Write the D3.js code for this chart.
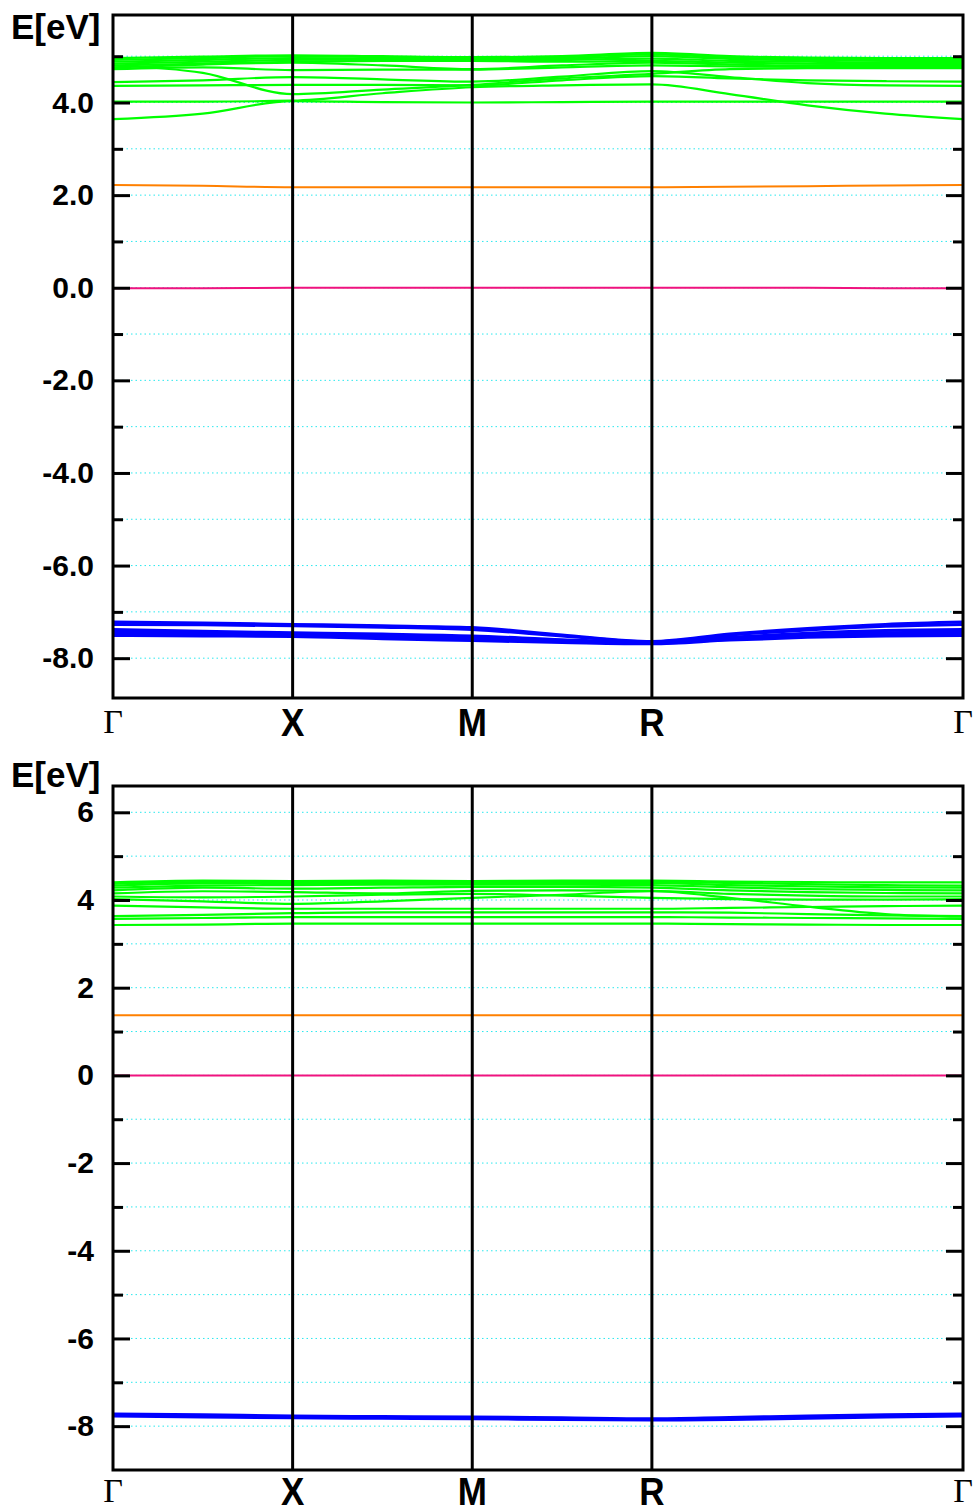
<!DOCTYPE html>
<html>
<head>
<meta charset="utf-8">
<script src="https://cdn.jsdelivr.net/npm/d3@7"></script>
<style>
  body { margin: 0; background: #fff; }
  svg { display: block; }
</style>
</head>
<body>
<div id="chart"></div>
<script>
// k-path sample positions (Γ, ΓX mid, X, XM mid, M, MR mid, R, three points on RΓ, Γ)
const kPos = [0, 0.25, 0.5, 0.75, 1.0, 1.25, 1.5, 1.7165, 1.933, 2.1495, 2.366];
const kTickPos = [0, 0.5, 1.0, 1.5, 2.366];
const kTickLabels = ["Γ", "X", "M", "R", "Γ"];

// upper panel bands (eV)
const topGreen = [
  [3.64, 3.76, 4.03, 4.01, 4.00, 4.01, 4.02, 4.02, 4.02, 4.02, 4.02],
  [4.02, 4.02, 4.04, 4.20, 4.33, 4.37, 4.39, 4.18, 3.94, 3.76, 3.64],
  [4.36, 4.37, 4.38, 4.38, 4.37, 4.48, 4.57, 4.52, 4.48, 4.46, 4.45],
  [4.44, 4.48, 4.55, 4.50, 4.45, 4.56, 4.68, 4.55, 4.42, 4.37, 4.36],
  [4.80, 4.64, 4.18, 4.28, 4.38, 4.52, 4.62, 4.72, 4.74, 4.74, 4.74],
  [4.72, 4.76, 4.70, 4.71, 4.71, 4.76, 4.80, 4.78, 4.77, 4.77, 4.77],
  [4.76, 4.82, 4.86, 4.80, 4.72, 4.80, 4.86, 4.82, 4.80, 4.80, 4.80],
  [4.80, 4.84, 4.88, 4.90, 4.90, 4.88, 4.90, 4.86, 4.84, 4.83, 4.83],
  [4.84, 4.88, 4.92, 4.93, 4.92, 4.92, 4.95, 4.90, 4.88, 4.86, 4.86],
  [4.88, 4.92, 4.96, 4.95, 4.94, 4.95, 5.00, 4.94, 4.91, 4.90, 4.90],
  [4.92, 4.96, 5.00, 4.98, 4.96, 4.98, 5.04, 4.97, 4.94, 4.93, 4.93],
  [4.96, 4.99, 5.02, 5.00, 4.98, 5.00, 5.07, 5.00, 4.97, 4.96, 4.96]
];
const topOrange = [2.22, 2.20, 2.17, 2.17, 2.17, 2.17, 2.17, 2.18, 2.19, 2.21, 2.22];
const topPink = [-0.01, -0.01, 0.0, 0.0, 0.0, 0.0, 0.0, 0.0, 0.0, -0.01, -0.01];
const topBlue = [
  [-7.22, -7.24, -7.27, -7.30, -7.34, -7.50, -7.64, -7.48, -7.36, -7.27, -7.22],
  [-7.27, -7.28, -7.30, -7.33, -7.38, -7.52, -7.65, -7.50, -7.39, -7.31, -7.27],
  [-7.38, -7.42, -7.45, -7.48, -7.52, -7.60, -7.66, -7.55, -7.46, -7.40, -7.38],
  [-7.43, -7.46, -7.48, -7.52, -7.56, -7.62, -7.67, -7.57, -7.49, -7.45, -7.43],
  [-7.47, -7.49, -7.51, -7.56, -7.60, -7.64, -7.68, -7.59, -7.52, -7.49, -7.47],
  [-7.51, -7.52, -7.53, -7.58, -7.62, -7.66, -7.69, -7.61, -7.55, -7.52, -7.51]
];

// lower panel bands (eV)
const botGreen = [
  [3.43, 3.44, 3.46, 3.46, 3.46, 3.46, 3.46, 3.45, 3.44, 3.43, 3.43],
  [3.57, 3.59, 3.61, 3.61, 3.61, 3.61, 3.61, 3.60, 3.59, 3.58, 3.57],
  [3.63, 3.66, 3.70, 3.72, 3.72, 3.72, 3.72, 3.71, 3.68, 3.65, 3.63],
  [3.87, 3.83, 3.80, 3.80, 3.80, 3.80, 3.80, 3.82, 3.84, 3.86, 3.87],
  [4.02, 3.97, 3.91, 3.97, 4.05, 4.12, 4.20, 4.05, 3.85, 3.68, 3.62],
  [4.08, 4.06, 4.08, 4.12, 4.14, 4.10, 4.05, 4.02, 4.01, 4.01, 4.02],
  [4.15, 4.20, 4.18, 4.15, 4.21, 4.22, 4.21, 4.14, 4.10, 4.08, 4.08],
  [4.22, 4.28, 4.26, 4.28, 4.30, 4.30, 4.28, 4.22, 4.18, 4.16, 4.15],
  [4.28, 4.33, 4.34, 4.35, 4.35, 4.35, 4.34, 4.29, 4.25, 4.23, 4.22],
  [4.33, 4.38, 4.38, 4.39, 4.38, 4.39, 4.39, 4.34, 4.31, 4.29, 4.28],
  [4.37, 4.41, 4.41, 4.42, 4.41, 4.42, 4.42, 4.39, 4.36, 4.34, 4.33],
  [4.40, 4.44, 4.43, 4.44, 4.43, 4.44, 4.44, 4.42, 4.41, 4.40, 4.40]
];
const botOrange = [1.37, 1.37, 1.37, 1.37, 1.37, 1.37, 1.37, 1.37, 1.37, 1.37, 1.37];
const botPink = [0.0, 0.0, 0.0, 0.0, 0.0, 0.0, 0.0, 0.0, 0.0, 0.0, 0.0];
const botBlue = [
  [-7.72, -7.74, -7.77, -7.78, -7.79, -7.81, -7.83, -7.80, -7.77, -7.74, -7.72],
  [-7.75, -7.77, -7.79, -7.80, -7.81, -7.83, -7.85, -7.83, -7.80, -7.77, -7.75],
  [-7.77, -7.79, -7.81, -7.82, -7.83, -7.85, -7.86, -7.85, -7.82, -7.79, -7.77]
];

// axis ticks
const topMajor = [-8, -6, -4, -2, 0, 2, 4];
const topMinor = [-7, -5, -3, -1, 1, 3, 5];
const topGrid = d3.range(-8, 6);
const botMajor = [-8, -6, -4, -2, 0, 2, 4, 6];
const botMinor = [-7, -5, -3, -1, 1, 3, 5];
const botGrid = d3.range(-8, 7);

var W = 976, H = 1512;
var left = 113, right = 963;

var svg = d3.select('#chart')
    .append('svg')
    .attr('width', W)
    .attr('height', H)
    .style('font-family', '"Liberation Sans", Arial, sans-serif');

svg.append('rect').attr('width', W).attr('height', H).attr('fill', '#fff');

var x = d3.scaleLinear()
    .domain([0, kTickPos[kTickPos.length - 1]])
    .range([left, right]);

function drawPanel(p) {
    var y = d3.scaleLinear().domain(p.yDomain).range([p.bottom, p.top]);
    var g = svg.append('g');

    var clipId = 'clip' + p.id;
    g.append('clipPath').attr('id', clipId)
        .append('rect')
        .attr('x', left).attr('y', p.top)
        .attr('width', right - left).attr('height', p.bottom - p.top);

    // dotted cyan grid
    g.selectAll('.grid')
        .data(p.grid)
        .enter()
        .append('line')
        .attr('x1', left).attr('x2', right)
        .attr('y1', d => y(d)).attr('y2', d => y(d))
        .attr('stroke', '#2ae8ee')
        .attr('stroke-width', 1)
        .attr('stroke-dasharray', '1.5,3');

    var line = d3.line()
        .x((d, i) => x(kPos[i]))
        .y(d => y(d))
        .curve(d3.curveMonotoneX);

    var bands = g.append('g').attr('clip-path', `url(#${clipId})`).attr('fill', 'none');

    bands.selectAll('.pink').data([p.pink]).enter().append('path')
        .attr('d', line).attr('stroke', '#f0127f').attr('stroke-width', 2);
    bands.selectAll('.orange').data([p.orange]).enter().append('path')
        .attr('d', line).attr('stroke', '#ff8000').attr('stroke-width', 2);
    bands.selectAll('.blue').data(p.blue).enter().append('path')
        .attr('d', line).attr('stroke', '#0000ff').attr('stroke-width', 3);
    bands.selectAll('.green').data(p.green).enter().append('path')
        .attr('d', line).attr('stroke', '#00ff00').attr('stroke-width', 2.2);

    // high-symmetry verticals
    g.selectAll('.kline')
        .data(kTickPos.slice(1, -1))
        .enter()
        .append('line')
        .attr('x1', d => x(d)).attr('x2', d => x(d))
        .attr('y1', p.top).attr('y2', p.bottom)
        .attr('stroke', '#000')
        .attr('stroke-width', 3);

    // ticks, inward on both sides
    var tickStyle = sel => {
        sel.select('.domain').remove();
        sel.selectAll('.tick line').attr('stroke', '#000').attr('stroke-width', 3);
    };
    var fmt = d3.format(p.fmt);
    g.append('g')
        .attr('transform', `translate(${left},0)`)
        .call(d3.axisLeft(y).tickValues(p.major).tickSize(-17).tickPadding(19)
            .tickFormat(d => fmt(d).replace('\u2212', '-')))
        .call(tickStyle)
        .selectAll('text')
        .attr('fill', '#000')
        .style('font-size', '30px')
        .style('font-weight', 'bold')
        .style('font-family', '"Liberation Sans", Arial, sans-serif');
    g.append('g')
        .attr('transform', `translate(${left},0)`)
        .call(d3.axisLeft(y).tickValues(p.minor).tickSize(-10).tickFormat(''))
        .call(tickStyle);
    g.append('g')
        .attr('transform', `translate(${right},0)`)
        .call(d3.axisRight(y).tickValues(p.major).tickSize(-17).tickFormat(''))
        .call(tickStyle);
    g.append('g')
        .attr('transform', `translate(${right},0)`)
        .call(d3.axisRight(y).tickValues(p.minor).tickSize(-10).tickFormat(''))
        .call(tickStyle);

    // frame
    g.append('rect')
        .attr('x', left).attr('y', p.top)
        .attr('width', right - left).attr('height', p.bottom - p.top)
        .attr('fill', 'none')
        .attr('stroke', '#000')
        .attr('stroke-width', 3);

    // k-point labels
    g.selectAll('.klabel')
        .data(kTickPos)
        .enter()
        .append('text')
        .attr('transform', (d, i) => kTickLabels[i] == 'Γ'
            ? `translate(${x(d)},${p.bottom + p.labelDy - 3})`
            : `translate(${x(d)},${p.bottom + p.labelDy}) scale(1,1.1)`)
        .attr('text-anchor', 'middle')
        .style('font-family', (d, i) => kTickLabels[i] == 'Γ' ? '"Liberation Serif", "Times New Roman", serif' : '"Liberation Sans", Arial, sans-serif')
        .style('font-weight', (d, i) => kTickLabels[i] == 'Γ' ? 'normal' : 'bold')
        .style('font-size', (d, i) => kTickLabels[i] == 'Γ' ? '34px' : '35px')
        .text((d, i) => kTickLabels[i]);

    // y title
    g.append('text')
        .attr('x', 11)
        .attr('y', p.titleY)
        .style('font-size', '35px')
        .style('font-weight', 'bold')
        .text('E[eV]');
}

drawPanel({
    id: 'top', top: 15, bottom: 698, yDomain: [-8.86, 5.89],
    green: topGreen, blue: topBlue, orange: topOrange, pink: topPink,
    major: topMajor, minor: topMinor, grid: topGrid, fmt: '.1f', titleY: 39, labelDy: 38
});

drawPanel({
    id: 'bot', top: 786, bottom: 1470, yDomain: [-9.0, 6.6],
    green: botGreen, blue: botBlue, orange: botOrange, pink: botPink,
    major: botMajor, minor: botMinor, grid: botGrid, fmt: 'd', titleY: 787, labelDy: 35
});
</script>
</body>
</html>
